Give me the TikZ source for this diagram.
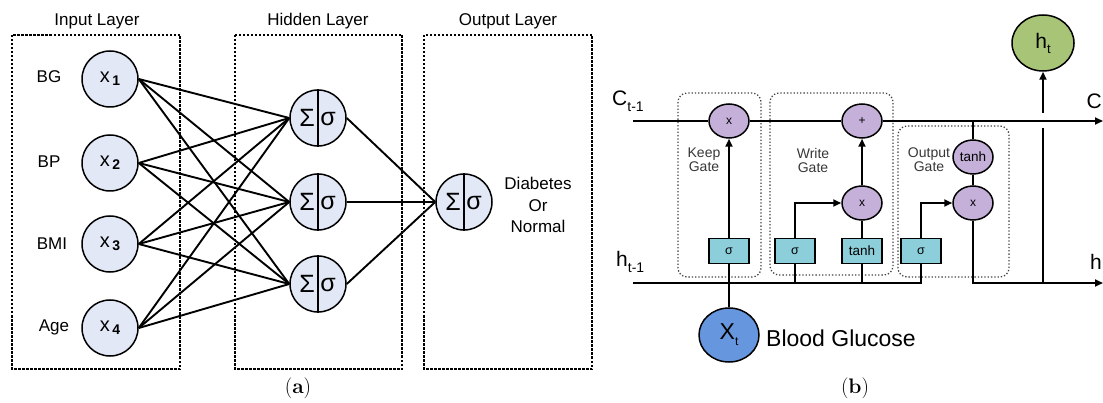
\documentclass[tikz,border=0pt]{standalone}
\usepackage{fontspec}
\setsansfont{Liberation Sans}
\renewcommand\familydefault{\sfdefault}
\usetikzlibrary{arrows.meta,shapes.geometric}
\definecolor{incol}{RGB}{226,232,245}
\definecolor{opcol}{RGB}{196,176,216}
\definecolor{actcol}{RGB}{140,206,218}
\definecolor{xtcol}{RGB}{102,150,222}
\definecolor{htcol}{RGB}{168,196,118}
\definecolor{glbl}{RGB}{55,55,55}
\newcommand\fs[1]{\fontsize{#1}{#1}\selectfont}
\newcommand\xlab[1]{{\fs{20}x}\hspace{2.5pt}\raisebox{-3pt}{\fs{14}\bfseries #1}}
\tikzset{
  inc/.style={circle, draw, line width=1.5pt, fill=incol, minimum size=56pt, inner sep=0pt},
  layerbox/.style={draw, line width=1.5pt, dash pattern=on 2.5pt off 1.5pt},
  wire/.style={line width=1.9pt},
  arr/.style={wire, -{Triangle[length=8pt,width=7pt]}},
  lbl/.style={font=\fontsize{17}{21.5}\selectfont, inner sep=0pt},
  gatebox/.style={draw=black!75, dotted, line width=1.3pt, rounded corners=9pt},
  gatelbl/.style={font=\fontsize{14}{14}\selectfont, text=glbl, align=center, inner sep=0pt},
  op/.style={ellipse, draw, line width=1.5pt, fill=opcol, minimum width=40pt, minimum height=34pt, inner sep=0pt, font=\fs{12}},
  act/.style={rectangle, draw, line width=1.3pt, fill=actcol, minimum width=40pt, minimum height=25pt, inner sep=0pt, font=\fs{12.5}},
  sigtxt/.style={font=\fs{25}, inner sep=0pt},
  captxt/.style={font=\rmfamily\fs{21}}
}
\begin{document}
\begin{tikzpicture}[x=1pt,y=-1pt]
\useasboundingbox (0,0) rectangle (1103,403);
% ---------- panel (a) ----------
\draw[layerbox] (12,35) rectangle (180,369);
\draw[layerbox] (235,35) rectangle (402,369);
\draw[layerbox] (424,35) rectangle (592,369);
\node[lbl] (tin) at (97,21) {Input Layer};
\node[lbl] (thid) at (318,21) {Hidden Layer};
\node[lbl] (tout) at (508,21) {Output Layer};
\node[lbl] (lbg) at (49,77) {BG};
\node[lbl] (lbp) at (49,162) {BP};
\node[lbl] (lbmi) at (52,244) {BMI};
\node[lbl] (lage) at (54,327) {Age};
\node[inc] (x1) at (110,79) {\xlab{1}};
\node[inc] (x2) at (110,163) {\xlab{2}};
\node[inc] (x3) at (110,244) {\xlab{3}};
\node[inc] (x4) at (110,328) {\xlab{4}};
\node[inc] (h1) at (318,118) {};
\node[inc] (h2) at (318,202) {};
\node[inc] (h3) at (318,284) {};
\node[inc] (o) at (464,202) {};
\foreach \n in {h1,h2,h3,o}{
  \draw[line width=1.5pt] (\n.north) -- (\n.south);
  \node[sigtxt] (\n s) at ([xshift=-11pt]\n.center) {Σ};
  \node[sigtxt] (\n g) at ([xshift=10pt,yshift=-1pt]\n.center) {σ};
}
\foreach \i in {1,...,4}{
  \foreach \j in {1,2,3}{
    \draw[wire] (x\i.east) -- (h\j.west);
  }
}
\foreach \j in {1,2,3}{ \draw[wire] (h\j.east) -- (o.west); }
\node[lbl, align=center] (dn) at (538,205) {Diabetes\\Or\\Normal};
\node[captxt] (capa) at (298,388) {(\textbf{a})};
% ---------- panel (b) ----------
\draw[gatebox] (678,93) rectangle (761,277);
\draw[gatebox] (770,93) rectangle (893,275);
\draw[gatebox] (898,126) rectangle (1009,277);
\node[gatelbl] (kg) at (704,160) {Keep\\Gate};
\node[gatelbl] (wg) at (813,160) {Write\\Gate};
\node[gatelbl] (og) at (929,160) {Output\\Gate};
\coordinate (cs) at (633,121);
\coordinate (ce) at (1103,121);
\coordinate (hs) at (633,283);
\coordinate (he) at (1103,283);
\coordinate (cj) at (973,121);
\coordinate (hj) at (1043,283);
\coordinate (hjtop) at (1043,128);
\coordinate (hup) at (1043,113);
\node[op] (kx) at (729,121) {x};
\node[op] (wp) at (862,121) {+};
\node[op] (wx) at (862,203) {x};
\node[op, font=\fs{13.5}] (ot) at (973,157) {tanh};
\node[op] (ox) at (973,203) {x};
\node[act] (ks) at (729,251) {σ};
\node[act] (ws) at (795,251) {σ};
\node[act, font=\fs{13.5}] (wt) at (862,251) {tanh};
\node[act] (os) at (921,251) {σ};
\node[ellipse, draw, line width=1.5pt, fill=xtcol, minimum width=60pt, minimum height=54pt, inner sep=0pt] (xt) at (729,335) {{\fs{23}X}\raisebox{-6pt}{\fs{12}t}};
\node[ellipse, draw, line width=1.5pt, fill=htcol, minimum width=62pt, minimum height=56pt, inner sep=0pt] (ht) at (1043,43) {{\fs{21}h}\raisebox{-5pt}{\fs{13}t}};
\draw[wire] (cs) -- (kx);
\draw[wire] (kx) -- (wp);
\draw[arr] (wp) -- (ce);
\draw[wire] (hs) -| (os.south);
\draw[wire] (xt) -- (ks);
\draw[arr] (ks) -- (kx);
\draw[arr] (wx) -- (wp);
\draw[wire] (wt) -- (wx);
\draw[arr] (ws.north) |- (wx.west);
\draw[wire] (ws.south) -- (ws.south |- hs);
\draw[wire] (wt.south) -- (wt.south |- hs);
\draw[arr] (os.north) |- (ox.west);
\draw[wire] (cj) -- (ot);
\draw[wire] (ot) -- (ox);
\draw[arr] (ox.south) |- (he);
\draw[wire] (hj) -- (hjtop);
\draw[arr] (hup) -- (ht);
\node[inner sep=0pt, anchor=west] (clab) at (612,101) {{\fs{21}C}\raisebox{-6pt}{\fs{14}t-1}};
\node[inner sep=0pt, anchor=west] (hlab) at (616,262) {{\fs{21}h}\raisebox{-6pt}{\fs{14}t-1}};
\node[inner sep=0pt, anchor=east, font=\fs{21}] (cr) at (1102,101) {C};
\node[inner sep=0pt, anchor=east, font=\fs{21}] (hr) at (1102,262) {h};
\node[inner sep=0pt, anchor=west, font=\fs{23}] (bg) at (766,338) {Blood Glucose};
\node[captxt] (capb) at (855,388) {(\textbf{b})};
\end{tikzpicture}
\end{document}
